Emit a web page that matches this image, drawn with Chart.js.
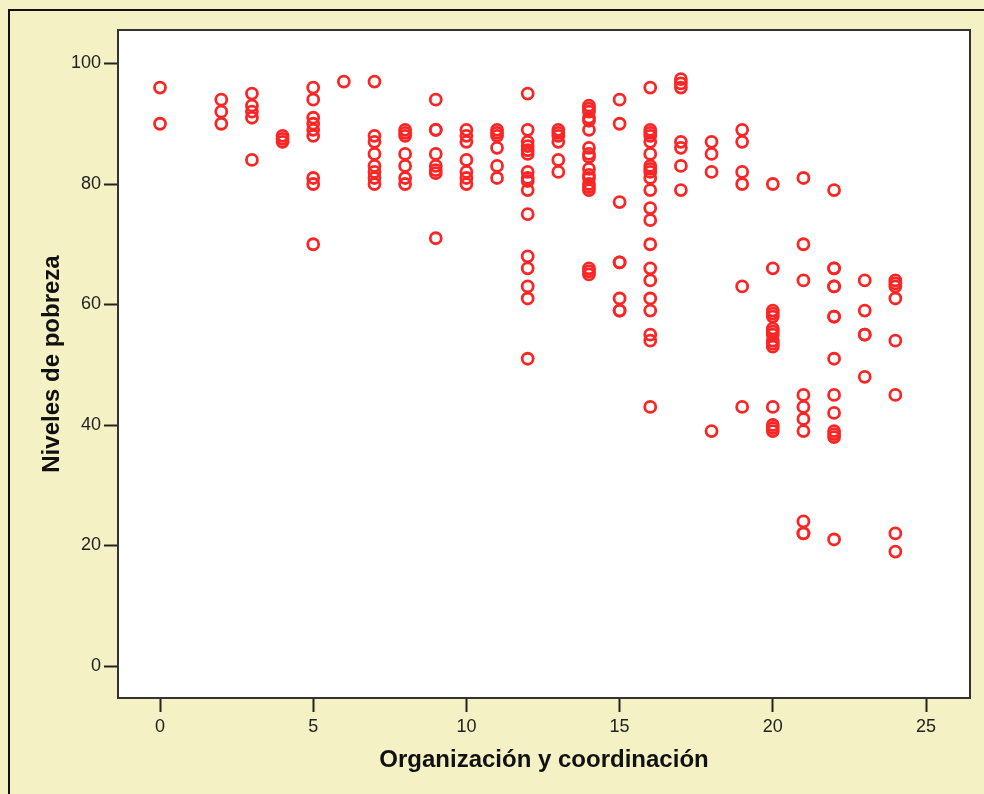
<!DOCTYPE html>
<html lang="es">
<head>
<meta charset="UTF-8">
<title>Niveles de pobreza</title>
<script src="https://cdn.jsdelivr.net/npm/chart.js"></script>
<style>
    body { margin: 0; background: #f4f2c4; }
</style>
</head>
<body>
<canvas id="scatter" width="984" height="794"></canvas>
<script>
// puntuación de organización y coordinación (eje x)
const orgScores = [0, 2, 3, 4, 5, 6, 7, 8, 9, 10, 11, 12, 13, 14, 15, 16, 17, 18, 19, 20, 21, 22, 23, 24];

// niveles de pobreza para cada puntuación, en el mismo orden
const povertyLevels = [
    [96, 90],
    [94, 92, 90],
    [95, 93, 92, 91, 84],
    [88, 87.5, 87],
    [96, 94, 91, 90, 89, 88, 81, 80, 70],
    [97],
    [97, 88, 87, 85, 83, 82, 81, 80],
    [89, 88.5, 88, 85, 83, 81, 80],
    [94, 89, 89, 85, 83, 82.3, 81.8, 71],
    [89, 88, 87, 84, 82, 81, 80],
    [89, 88.5, 88, 86, 83, 81],
    [95, 89, 87, 86.3, 85.6, 85, 82, 81, 80.5, 79, 75, 68, 66, 63, 61, 51],
    [89, 88.5, 88, 87, 84, 82],
    [93, 92.5, 92, 91, 90.5, 89, 86, 85, 84.5, 82.5, 81.5, 81, 80, 79.5, 79, 66, 65.5, 65],
    [94, 90, 77, 67, 67, 61, 59, 59],
    [96, 89, 88.5, 88, 87, 85, 83, 82.5, 82, 81, 79, 76, 74, 70, 66, 64, 61, 59, 55, 54, 43],
    [97.4, 96.7, 96, 87, 86, 83, 79],
    [87, 85, 82, 39],
    [89, 87, 82, 80, 63, 43],
    [80, 66, 59, 58.5, 58, 56, 55.5, 55, 54, 53.5, 53, 43, 40, 39.5, 39],
    [81, 70, 64, 45, 43, 41, 39, 24, 22, 22],
    [79, 66, 66, 63, 63, 58, 58, 51, 45, 42, 39, 38.5, 38, 21],
    [64, 59, 55, 55, 48],
    [64, 63.5, 63, 61, 54, 45, 22, 19]
];

const xTicks = [0, 5, 10, 15, 20, 25];
const yTicks = [0, 20, 40, 60, 80, 100];

const points = [];
orgScores.forEach((x, i) => {
    povertyLevels[i].forEach(y => points.push({ x: x, y: y }));
});

const fontFamily = '"Liberation Sans", Arial, sans-serif';

const frame = {
    id: 'frame',
    beforeDraw(chart) {
        const { ctx, chartArea: a } = chart;
        ctx.save();
        ctx.fillStyle = '#f4f2c4';
        ctx.fillRect(0, 0, chart.width, chart.height);
        ctx.strokeStyle = '#111';
        ctx.lineWidth = 2;
        ctx.beginPath();
        ctx.moveTo(9, chart.height);
        ctx.lineTo(9, 10);
        ctx.lineTo(chart.width, 10);
        ctx.stroke();
        ctx.fillStyle = '#ffffff';
        ctx.fillRect(a.left, a.top, a.width, a.height);
        ctx.restore();
    },
    afterDraw(chart) {
        const { ctx, chartArea: a } = chart;
        ctx.save();
        ctx.strokeStyle = '#333';
        ctx.lineWidth = 2;
        ctx.strokeRect(a.left, a.top, a.width, a.height);
        ctx.restore();
    }
};

new Chart(document.getElementById('scatter'), {
    type: 'scatter',
    data: {
        datasets: [{
            label: 'Niveles de pobreza',
            data: points,
            pointStyle: 'circle',
            pointRadius: 5.5,
            pointBorderWidth: 2.8,
            pointBorderColor: 'rgb(250, 38, 38)',
            pointBackgroundColor: 'rgba(0, 0, 0, 0)',
            pointHoverRadius: 5.5
        }]
    },
    options: {
        responsive: false,
        animation: false,
        events: [],
        layout: { padding: { top: 30, right: 14, left: 0, bottom: 0 } },
        plugins: {
            legend: { display: false },
            tooltip: { enabled: false }
        },
        scales: {
            x: {
                type: 'linear',
                min: -1.371,
                max: 26.436,
                afterBuildTicks: s => { s.ticks = xTicks.map(v => ({ value: v })); },
                afterFit: s => { s.height = 96; },
                border: { display: false },
                grid: { drawOnChartArea: false, tickLength: 14, tickColor: '#222', tickWidth: 2 },
                ticks: { autoSkip: false, maxRotation: 0, padding: 4, color: '#222', font: { family: fontFamily, size: 18 } },
                title: {
                    display: true,
                    text: 'Organización y coordinación',
                    color: '#111',
                    font: { family: fontFamily, size: 24, weight: 'bold' },
                    padding: { top: 0, bottom: 19 }
                }
            },
            y: {
                type: 'linear',
                min: -5.31,
                max: 105.56,
                afterBuildTicks: s => { s.ticks = yTicks.map(v => ({ value: v })); },
                afterFit: s => { s.width = 118; },
                border: { display: false },
                grid: { drawOnChartArea: false, tickLength: 14, tickColor: '#222', tickWidth: 2 },
                ticks: { autoSkip: false, padding: 3, color: '#222', font: { family: fontFamily, size: 18 } },
                title: {
                    display: true,
                    text: 'Niveles de pobreza',
                    color: '#111',
                    font: { family: fontFamily, size: 24, weight: 'bold' },
                    padding: { top: 38, bottom: 0 }
                }
            }
        }
    },
    plugins: [frame]
});
</script>
</body>
</html>
